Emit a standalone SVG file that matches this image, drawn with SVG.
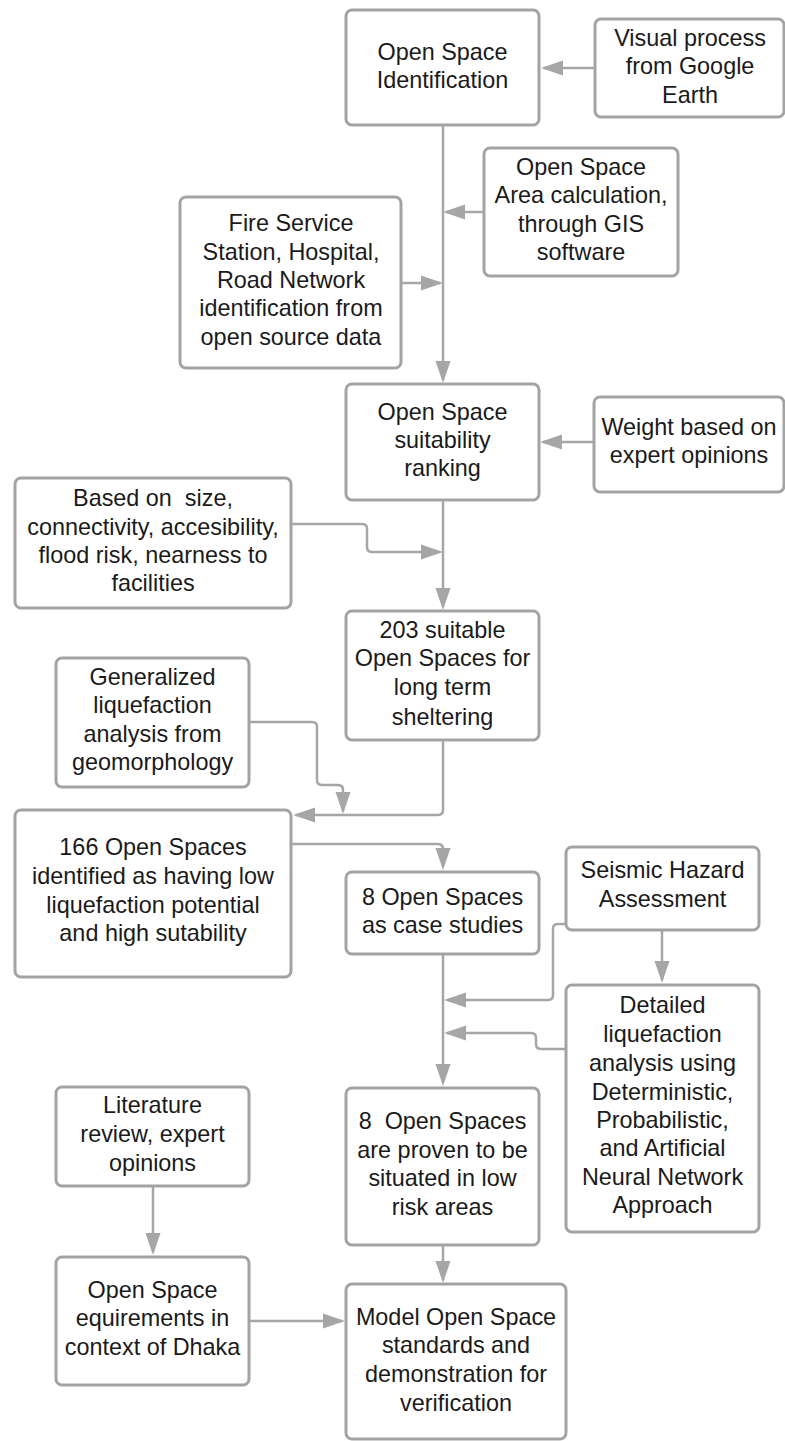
<svg xmlns="http://www.w3.org/2000/svg" width="785" height="1441" viewBox="0 0 785 1441">
<style>
.box{fill:#ffffff;stroke:#a3a3a3;stroke-width:3}
.t{font-family:"Liberation Sans",Arial,sans-serif;font-size:23.4px;fill:#1a1a1a;text-anchor:middle}
.c{fill:none;stroke:#a6a6a6;stroke-width:2.5}
</style>
<defs>
<marker id="ah" markerUnits="userSpaceOnUse" markerWidth="26" markerHeight="18" refX="19" refY="8" orient="auto">
<path d="M0,0.5 L22,8 L0,15.5 z" fill="#a6a6a6"/>
</marker>
</defs>
<rect width="785" height="1441" fill="#ffffff"/>
<g id="connectors">
<path class="c" marker-end="url(#ah)" d="M594,68 H544"/>
<path class="c" marker-end="url(#ah)" d="M443,125 V380"/>
<path class="c" marker-end="url(#ah)" d="M484,212 H446"/>
<path class="c" marker-end="url(#ah)" d="M401,283 H440"/>
<path class="c" marker-end="url(#ah)" d="M594,442 H543"/>
<path class="c" marker-end="url(#ah)" d="M291,524 H362 Q367,524 367,529 V547 Q367,552 372,552 H440"/>
<path class="c" marker-end="url(#ah)" d="M443,500 V607"/>
<path class="c" marker-end="url(#ah)" d="M249,722 H312 Q317,722 317,727 V780 Q317,785 322,785 H338 Q343,785 343,790 V811"/>
<path class="c" marker-end="url(#ah)" d="M443,740 V810 Q443,815 438,815 H296"/>
<path class="c" marker-end="url(#ah)" d="M291,844 H438 Q443,844 443,849 V867"/>
<path class="c" marker-end="url(#ah)" d="M662,930 V980"/>
<path class="c" marker-end="url(#ah)" d="M566,924 H558 Q553,924 553,929 V995 Q553,1000 548,1000 H447"/>
<path class="c" marker-end="url(#ah)" d="M566,1049 H541 Q536,1049 536,1044 V1038 Q536,1033 531,1033 H447"/>
<path class="c" marker-end="url(#ah)" d="M443,954 V1083"/>
<path class="c" marker-end="url(#ah)" d="M153,1186 V1252"/>
<path class="c" marker-end="url(#ah)" d="M443,1245 V1280"/>
<path class="c" marker-end="url(#ah)" d="M249,1321 H342"/>
</g>
<g id="n1"><rect class="box" x="346" y="10" width="193" height="115" rx="6"/>
<text class="t" x="442.5" y="60">Open Space</text><text class="t" x="442.5" y="88">Identification</text></g>
<g id="n2"><rect class="box" x="595" y="19" width="189" height="98" rx="6"/>
<text class="t" x="690" y="46">Visual process</text><text class="t" x="690" y="74">from Google</text><text class="t" x="690" y="103">Earth</text></g>
<g id="n3"><rect class="box" x="484" y="148" width="194" height="128" rx="6"/>
<text class="t" x="581" y="175">Open Space</text><text class="t" x="581" y="203">Area calculation,</text><text class="t" x="581" y="232">through GIS</text><text class="t" x="581" y="260">software</text></g>
<g id="n4"><rect class="box" x="180" y="197" width="221" height="171" rx="6"/>
<text class="t" x="291" y="231">Fire Service</text><text class="t" x="291" y="260">Station, Hospital,</text><text class="t" x="291" y="288">Road Network</text><text class="t" x="291" y="316">identification from</text><text class="t" x="291" y="345">open source data</text></g>
<g id="n5"><rect class="box" x="346" y="384" width="193" height="116" rx="6"/>
<text class="t" x="442.5" y="420">Open Space</text><text class="t" x="442.5" y="448">suitability</text><text class="t" x="442.5" y="476">ranking</text></g>
<g id="n6"><rect class="box" x="594" y="397" width="190" height="95" rx="6"/>
<text class="t" x="689" y="435">Weight based on</text><text class="t" x="689" y="463">expert opinions</text></g>
<g id="n7"><rect class="box" x="15" y="478" width="276" height="130" rx="6"/>
<text class="t" x="153" y="506" xml:space="preserve">Based on  size,</text><text class="t" x="153" y="535">connectivity, accesibility,</text><text class="t" x="153" y="563">flood risk, nearness to</text><text class="t" x="153" y="591">facilities</text></g>
<g id="n8"><rect class="box" x="346" y="611" width="193" height="129" rx="6"/>
<text class="t" x="442.5" y="638">203 suitable</text><text class="t" x="442.5" y="666">Open Spaces for</text><text class="t" x="442.5" y="695">long term</text><text class="t" x="442.5" y="725">sheltering</text></g>
<g id="n9"><rect class="box" x="56" y="658" width="193" height="129" rx="6"/>
<text class="t" x="152.5" y="685">Generalized</text><text class="t" x="152.5" y="713">liquefaction</text><text class="t" x="152.5" y="742">analysis from</text><text class="t" x="152.5" y="770">geomorphology</text></g>
<g id="n10"><rect class="box" x="15" y="810" width="276" height="167" rx="6"/>
<text class="t" x="153" y="855">166 Open Spaces</text><text class="t" x="153" y="884">identified as having low</text><text class="t" x="153" y="913">liquefaction potential</text><text class="t" x="153" y="941">and high sutability</text></g>
<g id="n11"><rect class="box" x="346" y="872" width="193" height="82" rx="6"/>
<text class="t" x="442.5" y="905">8 Open Spaces</text><text class="t" x="442.5" y="933">as case studies</text></g>
<g id="n12"><rect class="box" x="566" y="847" width="193" height="83" rx="6"/>
<text class="t" x="662.5" y="878">Seismic Hazard</text><text class="t" x="662.5" y="907">Assessment</text></g>
<g id="n13"><rect class="box" x="566" y="985" width="193" height="247" rx="6"/>
<text class="t" x="662.5" y="1013">Detailed</text><text class="t" x="662.5" y="1042">liquefaction</text><text class="t" x="662.5" y="1071">analysis using</text><text class="t" x="662.5" y="1100">Deterministic,</text><text class="t" x="662.5" y="1128">Probabilistic,</text><text class="t" x="662.5" y="1156">and Artificial</text><text class="t" x="662.5" y="1185">Neural Network</text><text class="t" x="662.5" y="1213">Approach</text></g>
<g id="n14"><rect class="box" x="346" y="1088" width="193" height="157" rx="6"/>
<text class="t" x="442.5" y="1129" xml:space="preserve">8  Open Spaces</text><text class="t" x="442.5" y="1158">are proven to be</text><text class="t" x="442.5" y="1186">situated in low</text><text class="t" x="442.5" y="1215">risk areas</text></g>
<g id="n15"><rect class="box" x="56" y="1087" width="193" height="99" rx="6"/>
<text class="t" x="152.5" y="1113">Literature</text><text class="t" x="152.5" y="1142">review, expert</text><text class="t" x="152.5" y="1171">opinions</text></g>
<g id="n16"><rect class="box" x="56" y="1257" width="193" height="128" rx="6"/>
<text class="t" x="152.5" y="1298">Open Space</text><text class="t" x="152.5" y="1326">equirements in</text><text class="t" x="152.5" y="1355">context of Dhaka</text></g>
<g id="n17"><rect class="box" x="346" y="1284" width="220" height="155" rx="6"/>
<text class="t" x="456" y="1325">Model Open Space</text><text class="t" x="456" y="1353">standards and</text><text class="t" x="456" y="1382">demonstration for</text><text class="t" x="456" y="1411">verification</text></g>
</svg>
